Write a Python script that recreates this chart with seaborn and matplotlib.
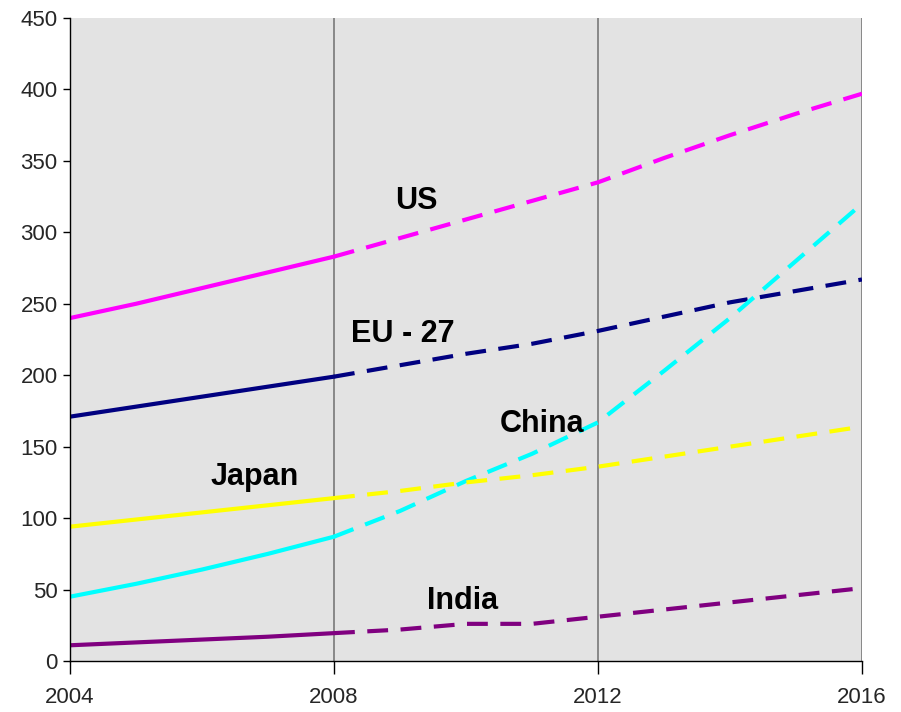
import numpy as np
import pandas as pd
import seaborn as sns
import matplotlib
matplotlib.use("Agg")
import matplotlib.pyplot as plt

years = [2004, 2005, 2006, 2007, 2008, 2009, 2010, 2011, 2012, 2013, 2014, 2015, 2016]
us = [240, 250, 261, 272, 283, 296, 309, 322, 335, 352, 368, 383, 397]
eu27 = [171, 178, 185, 192, 199, 207, 215, 222, 231, 241, 251, 259, 267]
china = [45, 54, 64, 75, 87, 105, 126, 145, 167, 203, 240, 280, 320]
japan = [94, 99, 104, 109, 114, 119, 125, 130, 136, 143, 150, 157, 164]
india = [11, 13, 15, 17, 19.5, 22, 26, 26, 31, 36, 41, 46, 51]

regions = ["US", "EU - 27", "China", "Japan", "India"]
colors = {"US": "#FF00FF", "EU - 27": "#000080", "China": "#00FFFF",
          "Japan": "#FFFF00", "India": "#800080"}
label_pos = {"US": (2009.25, 322), "EU - 27": (2009.05, 229),
             "China": (2011.15, 166), "Japan": (2006.8, 129), "India": (2009.95, 42)}
x_ticks = [2004, 2008, 2012, 2016]
y_ticks = list(range(0, 451, 50))
split_year = 2008

rows = []
for name, vals in zip(regions, [us, eu27, china, japan, india]):
    for y, v in zip(years, vals):
        rows.append({"region": name, "year": y, "value": v})
df = pd.DataFrame(rows)

sns.set_theme(style="white")
plt.rcParams["font.family"] = ["Liberation Sans", "DejaVu Sans"]

fig = plt.figure(figsize=(9.01, 7.12), dpi=100)
ax = fig.add_axes([70 / 901, 51 / 712, 792 / 901, 643 / 712])
ax.set_facecolor("#E3E3E3")

hist = df[df["year"] <= split_year]
proj = df[df["year"] >= split_year]
sns.lineplot(data=hist, x="year", y="value", hue="region", palette=colors,
             hue_order=regions, linewidth=3, legend=False, ax=ax,
             estimator=None, sort=True)
sns.lineplot(data=proj, x="year", y="value", hue="region", palette=colors,
             hue_order=regions, linewidth=3, legend=False, ax=ax,
             estimator=None, sort=True)
n = len(regions)
for line in ax.get_lines()[n:2 * n]:
    line.set_dashes((5, 3))
    line.set_solid_capstyle("butt")
    line.set_dash_capstyle("butt")

for name, (lx, ly) in label_pos.items():
    ax.text(lx, ly, name, fontsize=22, fontweight="bold", color="black",
            ha="center", va="center")

ax.set_xlim(2004, 2016)
ax.set_ylim(0, 450)
ax.set_xticks(x_ticks)
ax.set_yticks(y_ticks)
ax.set_xticklabels([str(t) for t in x_ticks], fontsize=16)
ax.set_yticklabels([str(t) for t in y_ticks], fontsize=16)
ax.set_xlabel("")
ax.set_ylabel("")
for xv in x_ticks[1:]:
    ax.axvline(xv, color="#707070", linewidth=1.1, zorder=0.5)

ax.spines["top"].set_visible(False)
ax.spines["right"].set_visible(False)
ax.spines["left"].set_color("black")
ax.spines["bottom"].set_color("black")
ax.spines["left"].set_linewidth(1)
ax.spines["bottom"].set_linewidth(1)
ax.tick_params(axis="y", direction="out", length=5, width=1, color="black", pad=4, left=True)
ax.tick_params(axis="x", direction="out", length=9, width=1, color="black", pad=10, bottom=True)
ax.grid(False)

fig.savefig("out.png", dpi=100)
